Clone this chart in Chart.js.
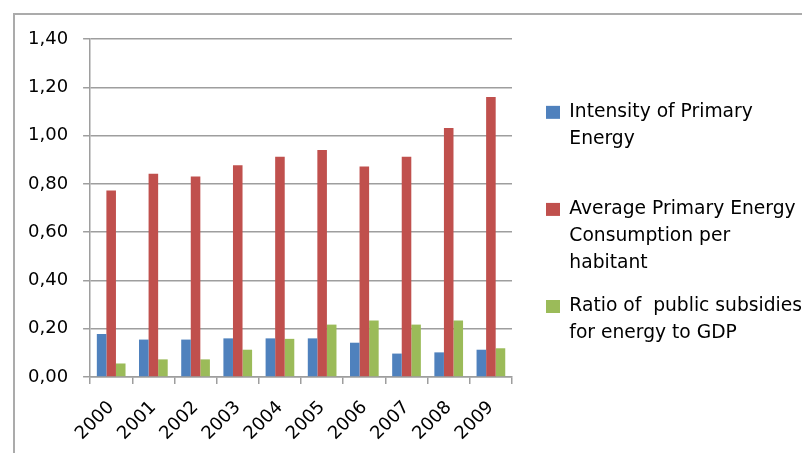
<!DOCTYPE html>
<html>
<head>
<meta charset="utf-8">
<script src="https://cdn.jsdelivr.net/npm/chart.js@4"></script>
<style>
  html, body { margin: 0; padding: 0; background: #fff; }
  #wrap { position: relative; width: 803px; height: 453px; overflow: hidden; }
  #frame {
    position: absolute; left: 13px; top: 13px; right: 1px; bottom: -4px;
    border-top: 2px solid #ababab; border-left: 2px solid #ababab;
    pointer-events: none;
  }
  canvas { position: absolute; left: 0; top: 0; }
</style>
</head>
<body>
<div id="wrap">
  <canvas id="energy" width="803" height="453"></canvas>
  <div id="frame"></div>
</div>
<script>
const years = ['2000', '2001', '2002', '2003', '2004', '2005', '2006', '2007', '2008', '2009'];

const intensity   = [0.178, 0.155, 0.155, 0.160, 0.160, 0.160, 0.142, 0.097, 0.102, 0.113];
const consumption = [0.773, 0.842, 0.830, 0.877, 0.912, 0.940, 0.872, 0.912, 1.031, 1.160];
const subsidies   = [0.056, 0.073, 0.073, 0.113, 0.158, 0.217, 0.234, 0.217, 0.234, 0.119];

// legend text, one entry per line (empty lines keep the slots even)
const legendLines = [
  ['Intensity of Primary', 'Energy', ''],
  ['Average Primary Energy', 'Consumption per', 'habitant'],
  ['Ratio of  public subsidies', 'for energy to GDP', '']
];

const font = "'DejaVu Sans', sans-serif";
const gridColor = '#9e9e9e';

const ctx = document.getElementById('energy');

new Chart(ctx, {
  type: 'bar',
  data: {
    labels: years,
    datasets: [
      { label: 'Intensity of Primary Energy', data: intensity, backgroundColor: '#4f81bd' },
      { label: 'Average Primary Energy Consumption per habitant', data: consumption, backgroundColor: '#c0504d' },
      { label: 'Ratio of public subsidies for energy to GDP', data: subsidies, backgroundColor: '#9bbb59' }
    ]
  },
  options: {
    responsive: false,
    animation: false,
    datasets: {
      bar: { categoryPercentage: 0.68, barPercentage: 1.0 }
    },
    layout: {
      padding: { left: 13, top: 39, right: 2, bottom: 6 }
    },
    plugins: {
      tooltip: { enabled: false },
      legend: {
        position: 'right',
        align: 'start',
        maxWidth: 271,
        title: {
          display: true,
          text: ' ',
          font: { size: 1, lineHeight: 1 },
          padding: { top: 47, bottom: 0 }
        },
        labels: {
          boxWidth: 14,
          boxHeight: 13,
          padding: 16,
          color: '#000',
          font: { family: font, size: 18.7, lineHeight: 1.445 },
          generateLabels(chart) {
            const items = Chart.defaults.plugins.legend.labels.generateLabels(chart);
            items.forEach((item, i) => {
              item.text = legendLines[i];
              item.lineWidth = 0;
            });
            return items;
          }
        }
      }
    },
    scales: {
      x: {
        grid: {
          drawOnChartArea: false,
          drawTicks: true,
          tickLength: 7,
          color: gridColor,
          lineWidth: 1.5
        },
        border: { color: gridColor, width: 1.5 },
        ticks: {
          color: '#000',
          font: { family: font, size: 18 },
          minRotation: 45,
          maxRotation: 45,
          padding: 13
        },
        afterFit(scale) { scale.height = 70; }
      },
      y: {
        min: 0,
        max: 1.4,
        grid: {
          tickLength: 7,
          color: gridColor,
          lineWidth: 1.5
        },
        border: { color: gridColor, width: 1.5 },
        ticks: {
          stepSize: 0.2,
          color: '#000',
          padding: 15,
          font: { family: font, size: 18 },
          callback: (v) => v.toFixed(2).replace('.', ',')
        }
      },
      // empty spacer between the plot and the legend
      gap: {
        type: 'linear',
        axis: 'y',
        position: 'right',
        grid: { display: false, drawTicks: false },
        border: { display: false },
        ticks: { display: false },
        afterFit(scale) { scale.width = 18; }
      }
    }
  }
});
</script>
</body>
</html>
